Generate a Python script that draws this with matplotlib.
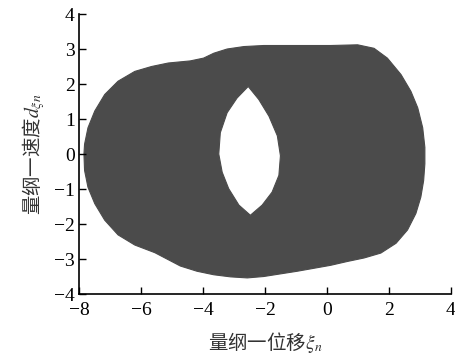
import matplotlib
matplotlib.use("Agg")
import matplotlib.pyplot as plt
from matplotlib.path import Path
from matplotlib.patches import PathPatch
import numpy as np

# outer edge of the phase trajectory band (xi, d_xi), traced clockwise
outer_x = [-7.84, -7.82, -7.71, -7.49, -7.17, -6.74, -6.20, -5.66, -5.12, -4.41,
           -3.98, -3.65, -3.22, -2.68, -2.04, -1.50, 0.12, 0.99, 1.52, 1.95,
           2.39, 2.71, 2.93, 3.09, 3.16, 3.16, 3.12, 3.03, 2.87, 2.60,
           2.23, 1.74, 1.20, 0.66, 0.12, -0.96, -2.04, -2.57, -3.11, -3.65,
           -4.19, -4.73, -5.55, -6.20, -6.74, -7.17, -7.49, -7.71, -7.82]
outer_y = [0.00, 0.28, 0.75, 1.23, 1.70, 2.08, 2.36, 2.50, 2.60, 2.66,
           2.74, 2.88, 3.00, 3.07, 3.10, 3.10, 3.10, 3.12, 3.02, 2.74,
           2.27, 1.79, 1.32, 0.75, 0.19, -0.28, -0.76, -1.23, -1.70, -2.17,
           -2.55, -2.83, -2.97, -3.07, -3.18, -3.35, -3.50, -3.54, -3.51, -3.45,
           -3.35, -3.20, -2.82, -2.60, -2.31, -1.89, -1.42, -0.95, -0.47]

# lens-shaped hole in the middle of the band
hole_x = [-2.54, -2.20, -1.87, -1.60, -1.50, -1.55, -1.77, -2.09, -2.47, -2.84,
          -3.17, -3.38, -3.49, -3.44, -3.22, -2.90]
hole_y = [1.93, 1.56, 1.08, 0.52, -0.05, -0.61, -1.09, -1.46, -1.75, -1.46,
          -0.99, -0.52, 0.00, 0.61, 1.18, 1.60]

x_ticks = [-8, -6, -4, -2, 0, 2, 4]
y_ticks = [-4, -3, -2, -1, 0, 1, 2, 3, 4]

plt.rcParams['font.family'] = ['Liberation Serif', 'DejaVu Serif']
plt.rcParams['mathtext.fontset'] = 'stix'

fig = plt.figure(figsize=(4.55, 3.62), dpi=100)
ax = fig.add_axes([0.1736, 0.1878, 0.8174, 0.7735])


def ring(xs, ys):
    pts = list(zip(xs, ys))
    return pts + [pts[0]], [Path.MOVETO] + [Path.LINETO] * (len(pts) - 1) + [Path.CLOSEPOLY]


o_pts, o_codes = ring(outer_x, outer_y)
h_pts, h_codes = ring(hole_x[::-1], hole_y[::-1])
band = Path(np.array(o_pts + h_pts), o_codes + h_codes)
ax.add_patch(PathPatch(band, facecolor='#4b4b4b', edgecolor='#4b4b4b', lw=0.8,
                       joinstyle='round'))

ax.set_xlim(-8, 4)
ax.set_ylim(-4, 4)
ax.set_xticks(x_ticks)
ax.set_yticks(y_ticks)
ax.set_xticklabels([str(t).replace('-', '\u2212') for t in x_ticks])
ax.set_yticklabels([str(t).replace('-', '\u2212') for t in y_ticks])
ax.tick_params(direction='in', length=5, width=1, labelsize=14)
ax.tick_params(axis='x', pad=6)
ax.tick_params(axis='y', pad=3)
ax.spines['top'].set_visible(False)
ax.spines['right'].set_visible(False)
for s in ('left', 'bottom'):
    ax.spines[s].set_linewidth(1.2)

cjk = ['Noto Sans CJK SC', 'DejaVu Sans']
ax.set_xlabel('量纲一位移$\\xi_n$', fontsize=14, family=cjk, color='#333333', labelpad=8)
ax.set_ylabel('量纲一速度$d_{\\xi n}$', fontsize=14, family=cjk, color='#333333', labelpad=5)

fig.savefig('out.png', dpi=100)
